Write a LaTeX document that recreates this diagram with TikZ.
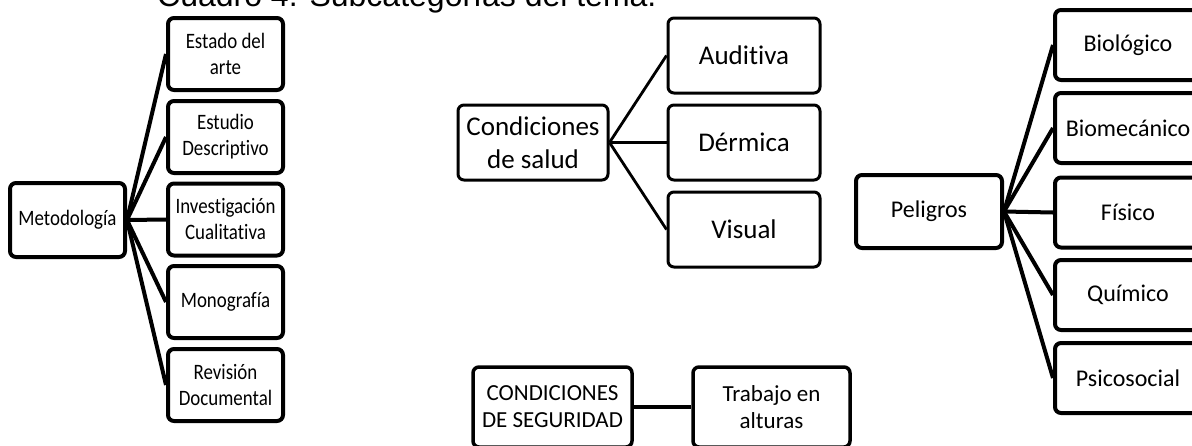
\documentclass[tikz,border=0pt]{standalone}
\usepackage{fontspec}
\setmainfont[Ligatures=NoCommon]{Carlito}
\newfontfamily\titlefont{Liberation Sans}
\newfontfamily\condfont[FakeStretch=0.86,Ligatures=NoCommon]{Carlito}
\begin{document}
\begin{tikzpicture}[x=1pt,y=-1pt,
  boxbase/.style={draw,rounded corners=6pt,align=center,inner sep=0pt,anchor=center},
  leftbox/.style={boxbase,line width=4pt,minimum width=115pt,font=\condfont\fontsize{22}{26}\selectfont},
  saludbox/.style={boxbase,line width=3pt,minimum width=#1,minimum height=75pt,font=\fontsize{27}{33}\selectfont},
  segbox/.style={boxbase,line width=3.5pt,minimum width=#1,minimum height=80pt,font=\fontsize{23}{27}\selectfont},
  pelbox/.style={boxbase,line width=4pt,minimum width=146pt,font=\fontsize{24}{29}\selectfont},
  conn/.style={line width=2.8pt},
  thickconn/.style={line width=4pt}]
\useasboundingbox (0,0) rectangle (1192,445);
\clip (0,0) rectangle (1192,445);

% title (cut off at top)
\node[anchor=base west,inner sep=0pt,font=\titlefont\fontsize{32}{38}\selectfont] (title) at (157,6) {Cuadro 4. Subcategorías del tema.};

% Metodologia group
\node[leftbox,minimum height=74pt] (met) at (67.5,220) {Metodología};
\node[leftbox,minimum height=72pt] (m1) at (225.5,54) {Estado del\\arte};
\node[leftbox,minimum height=72pt] (m2) at (225.5,137) {Estudio\\Descriptivo};
\node[leftbox,minimum height=72pt] (m3) at (225.5,219.5) {Investigación\\Cualitativa};
\node[leftbox,minimum height=72pt] (m4) at (225.5,302) {Monografía};
\node[leftbox,minimum height=72pt] (m5) at (225.5,385) {Revisión\\Documental};
\foreach \c in {m1,m2,m3,m4,m5} \draw[thickconn] (met.east) -- (\c.west);

% Condiciones de salud group
\node[saludbox=150pt] (cs) at (533,142.5) {Condiciones\\de salud};
\node[saludbox=152pt] (c1) at (744,55.5) {Auditiva};
\node[saludbox=152pt] (c2) at (744,142.5) {Dérmica};
\node[saludbox=152pt] (c3) at (744,229.5) {Visual};
\foreach \c in {c1,c2,c3} \draw[conn] (cs.east) -- (\c.west);

% Condiciones de seguridad
\node[segbox=159pt] (seg) at (552.5,407) {CONDICIONES\\DE SEGURIDAD};
\node[segbox=157pt] (tra) at (771.5,407) {Trabajo en\\alturas};
\draw[line width=3.5pt] (seg.east) -- (tra.west);

% Peligros group
\node[pelbox,minimum height=73pt] (pel) at (929,211.5) {Peligros};
\node[pelbox,minimum height=70pt] (p1) at (1128,45) {Biológico};
\node[pelbox,minimum height=70pt] (p2) at (1128,128) {Biomecánico};
\node[pelbox,minimum height=70pt] (p3) at (1128,212.5) {Físico};
\node[pelbox,minimum height=70pt] (p4) at (1128,295) {Químico};
\node[pelbox,minimum height=70pt] (p5) at (1128,378) {Psicosocial};
\foreach \c in {p1,p2,p3,p4,p5} \draw[thickconn] (pel.east) -- (\c.west);
\end{tikzpicture}
\end{document}
